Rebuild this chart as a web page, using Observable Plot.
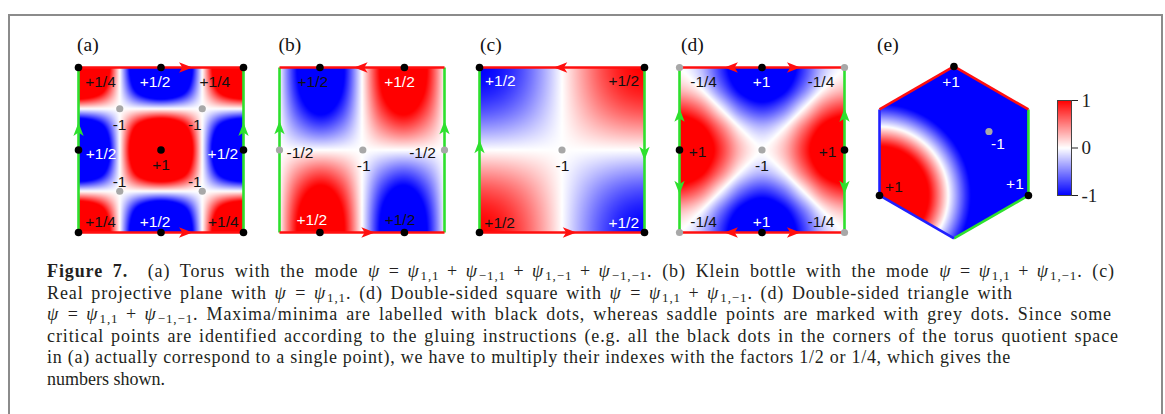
<!DOCTYPE html>
<html>
<head>
<meta charset="utf-8">
<script src="https://cdn.jsdelivr.net/npm/d3@7"></script>
<script src="https://cdn.jsdelivr.net/npm/@observablehq/plot@0.6"></script>
<style>
  html, body { margin: 0; padding: 0; background: #fff; }
  #fig { position: relative; width: 1165px; height: 414px; overflow: hidden; background: #fff; }
  .frame { position: absolute; left: 8px; top: 14px; width: 1151px; height: 440px; border: 2px solid #8b8b8b; }
  .panel { position: absolute; }
  .panel svg { overflow: visible; }
  .tag { position: absolute; top: 35px; font-family: "Liberation Serif", serif; font-size: 19.5px; line-height: 20px; color: #111; }
  .caption { position: absolute; left: 47px; top: 261px; font-family: "Liberation Serif", serif; font-size: 18px; line-height: 21.5px; color: #231f20; }
  .caption .ln { display: block; white-space: nowrap; height: 21.5px; }
  .caption sub { font-size: 0.72em; vertical-align: -0.25em; line-height: 0; }
  .caption i { padding-right: 0.06em; }
  .caption .op { margin: 0 0.42em; }
</style>
</head>
<body>
<div id="fig">
  <div class="frame"></div>
  <div class="tag" style="left:77px">(a)</div>
  <div class="tag" style="left:278.5px">(b)</div>
  <div class="tag" style="left:480px">(c)</div>
  <div class="tag" style="left:681px">(d)</div>
  <div class="tag" style="left:877px">(e)</div>
  <div id="pa" class="panel"></div>
  <div id="pb" class="panel"></div>
  <div id="pc" class="panel"></div>
  <div id="pd" class="panel"></div>
  <div id="pe" class="panel"></div>
  <div id="bar" class="panel"></div>
  <div class="caption">
    <div class="ln"><span><b>Figure 7.</b>&nbsp; (a) Torus with the mode <i>ψ</i><span class="op">=</span><i>ψ</i><sub>1,1</sub><span class="op">+</span><i>ψ</i><sub>−1,1</sub><span class="op">+</span><i>ψ</i><sub>1,−1</sub><span class="op">+</span><i>ψ</i><sub>−1,−1</sub>. (b) Klein bottle with the mode <i>ψ</i><span class="op">=</span><i>ψ</i><sub>1,1</sub><span class="op">+</span><i>ψ</i><sub>1,−1</sub>. (c)</span></div>
    <div class="ln"><span>Real projective plane with <i>ψ</i><span class="op">=</span><i>ψ</i><sub>1,1</sub>. (d) Double-sided square with <i>ψ</i><span class="op">=</span><i>ψ</i><sub>1,1</sub><span class="op">+</span><i>ψ</i><sub>1,−1</sub>. (d) Double-sided triangle with</span></div>
    <div class="ln"><span><i>ψ</i><span class="op">=</span><i>ψ</i><sub>1,1</sub><span class="op">+</span><i>ψ</i><sub>−1,−1</sub>. Maxima/minima are labelled with black dots, whereas saddle points are marked with grey dots. Since some</span></div>
    <div class="ln"><span>critical points are identified according to the gluing instructions (e.g. all the black dots in the corners of the torus quotient space</span></div>
    <div class="ln"><span>in (a) actually correspond to a single point), we have to multiply their indexes with the factors 1/2 or 1/4, which gives the</span></div>
    <div class="ln"><span>numbers shown.</span></div>
  </div>
</div>
<script>
// ---- Field samples on a 9×9 grid (rows top→bottom, columns left→right) ----
const gridA = [
  [2.8, 2, 0, -2, -2.8, -2, 0, 2, 2.8],
  [2, 1.4, 0, -1.4, -2, -1.4, 0, 1.4, 2],
  [0, 0, 0, 0, 0, 0, 0, 0, 0],
  [-2, -1.4, 0, 1.4, 2, 1.4, 0, -1.4, -2],
  [-2.8, -2, 0, 2, 2.8, 2, 0, -2, -2.8],
  [-2, -1.4, 0, 1.4, 2, 1.4, 0, -1.4, -2],
  [0, 0, 0, 0, 0, 0, 0, 0, 0],
  [2, 1.4, 0, -1.4, -2, -1.4, 0, 1.4, 2],
  [2.8, 2, 0, -2, -2.8, -2, 0, 2, 2.8]
];
const gridB = [
  [0, -1.13, -1.6, -1.13, 0, 1.13, 1.6, 1.13, 0],
  [0, -1.05, -1.48, -1.05, 0, 1.05, 1.48, 1.05, 0],
  [0, -0.8, -1.13, -0.8, 0, 0.8, 1.13, 0.8, 0],
  [0, -0.43, -0.62, -0.43, 0, 0.43, 0.62, 0.43, 0],
  [0, 0, 0, 0, 0, 0, 0, 0, 0],
  [0, 0.43, 0.62, 0.43, 0, -0.43, -0.62, -0.43, 0],
  [0, 0.8, 1.13, 0.8, 0, -0.8, -1.13, -0.8, 0],
  [0, 1.05, 1.48, 1.05, 0, -1.05, -1.48, -1.05, 0],
  [0, 1.13, 1.6, 1.13, 0, -1.13, -1.6, -1.13, 0]
];
const gridC = [
  [-1, -0.92, -0.71, -0.38, 0, 0.38, 0.71, 0.92, 1],
  [-0.92, -0.85, -0.65, -0.35, 0, 0.35, 0.65, 0.85, 0.92],
  [-0.71, -0.65, -0.5, -0.27, 0, 0.27, 0.5, 0.65, 0.71],
  [-0.38, -0.35, -0.27, -0.15, 0, 0.15, 0.27, 0.35, 0.38],
  [0, 0, 0, 0, 0, 0, 0, 0, 0],
  [0.38, 0.35, 0.27, 0.15, 0, -0.15, -0.27, -0.35, -0.38],
  [0.71, 0.65, 0.5, 0.27, 0, -0.27, -0.5, -0.65, -0.71],
  [0.92, 0.85, 0.65, 0.35, 0, -0.35, -0.65, -0.85, -0.92],
  [1, 0.92, 0.71, 0.38, 0, -0.38, -0.71, -0.92, -1]
];
const gridD = [
  [0, -0.23, -0.8, -1.37, -1.6, -1.37, -0.8, -0.23, 0],
  [0.23, 0, -0.57, -1.13, -1.37, -1.13, -0.57, 0, 0.23],
  [0.8, 0.57, 0, -0.57, -0.8, -0.57, 0, 0.57, 0.8],
  [1.37, 1.13, 0.57, 0, -0.23, 0, 0.57, 1.13, 1.37],
  [1.6, 1.37, 0.8, 0.23, 0, 0.23, 0.8, 1.37, 1.6],
  [1.37, 1.13, 0.57, 0, -0.23, 0, 0.57, 1.13, 1.37],
  [0.8, 0.57, 0, -0.57, -0.8, -0.57, 0, 0.57, 0.8],
  [0.23, 0, -0.57, -1.13, -1.37, -1.13, -0.57, 0, 0.23],
  [0, -0.23, -0.8, -1.37, -1.6, -1.37, -0.8, -0.23, 0]
];
// Triangle mode: value against distance from the lower-left corner (hexagon radius = 1)
const hexDist  = [0, 0.2, 0.4, 0.6, 0.8, 1.0, 1.2, 1.4, 1.6, 1.8];
const hexValue = [2, 1.9, 1.55, 0.9, 0, -0.8, -1.45, -1.85, -2, -2];

// ---- Gluing edges ----
const squareEdges = [
  {x1: 0, y1: 0, x2: 0, y2: 1, side: "green"},
  {x1: 1, y1: 0, x2: 1, y2: 1, side: "green"},
  {x1: 0, y1: 1, x2: 1, y2: 1, side: "red"},
  {x1: 0, y1: 0, x2: 1, y2: 0, side: "red"}
];
const hexEdges = [
  {x1: -0.866, y1: 0.5, x2: 0, y2: 1, side: "red"},
  {x1: 0, y1: 1, x2: 0.866, y2: 0.5, side: "red"},
  {x1: 0.866, y1: 0.5, x2: 0.866, y2: -0.5, side: "green"},
  {x1: 0.866, y1: -0.5, x2: 0, y2: -1, side: "green"},
  {x1: 0, y1: -1, x2: -0.866, y2: -0.5, side: "blue"},
  {x1: -0.866, y1: -0.5, x2: -0.866, y2: 0.5, side: "blue"}
];

// ---- Edge direction arrows (angle in degrees, 0 = right, 90 = down) ----
const arrowsA = [
  {x: 0.648, y: 1, angle: 0, side: "red"}, {x: 0.648, y: 0, angle: 0, side: "red"},
  {x: 0, y: 0.624, angle: -90, side: "green"}, {x: 1, y: 0.624, angle: -90, side: "green"}
];
const arrowsB = [
  {x: 0.495, y: 1, angle: 180, side: "red"}, {x: 0.535, y: 0, angle: 0, side: "red"},
  {x: 0, y: 0.634, angle: -90, side: "green"}, {x: 1, y: 0.634, angle: -90, side: "green"}
];
const arrowsC = [
  {x: 0.493, y: 1, angle: 180, side: "red"}, {x: 0.544, y: 0, angle: 0, side: "red"},
  {x: 0, y: 0.52, angle: -90, side: "green"}, {x: 1, y: 0.48, angle: 90, side: "green"}
];
const arrowsD = [
  {x: 0.315, y: 1, angle: 180, side: "red"}, {x: 0.69, y: 1, angle: 0, side: "red"},
  {x: 0.315, y: 0, angle: 180, side: "red"}, {x: 0.69, y: 0, angle: 0, side: "red"},
  {x: 0, y: 0.71, angle: -90, side: "green"}, {x: 0, y: 0.274, angle: 90, side: "green"},
  {x: 1, y: 0.71, angle: -90, side: "green"}, {x: 1, y: 0.274, angle: 90, side: "green"}
];

// ---- Critical points: extrema (black) and saddles (grey) ----
const dotsA = [
  {x: 0, y: 0, type: "extremum"}, {x: 1, y: 0, type: "extremum"}, {x: 0, y: 1, type: "extremum"},
  {x: 1, y: 1, type: "extremum"}, {x: 0.5, y: 1, type: "extremum"}, {x: 0.5, y: 0, type: "extremum"},
  {x: 0, y: 0.5, type: "extremum"}, {x: 1, y: 0.5, type: "extremum"}, {x: 0.5, y: 0.5, type: "extremum"},
  {x: 0.25, y: 0.75, type: "saddle"}, {x: 0.75, y: 0.75, type: "saddle"},
  {x: 0.25, y: 0.25, type: "saddle"}, {x: 0.75, y: 0.25, type: "saddle"}
];
const dotsB = [
  {x: 0.245, y: 1, type: "extremum"}, {x: 0.757, y: 1, type: "extremum"},
  {x: 0.245, y: 0, type: "extremum"}, {x: 0.757, y: 0, type: "extremum"},
  {x: 0, y: 0.5, type: "saddle"}, {x: 0.505, y: 0.5, type: "saddle"}, {x: 1, y: 0.5, type: "saddle"}
];
const dotsC = [
  {x: 0, y: 0, type: "extremum"}, {x: 1, y: 0, type: "extremum"},
  {x: 0, y: 1, type: "extremum"}, {x: 1, y: 1, type: "extremum"},
  {x: 0.5, y: 0.5, type: "saddle"}
];
const dotsD = [
  {x: 0.5, y: 1, type: "extremum"}, {x: 0.5, y: 0, type: "extremum"},
  {x: 0, y: 0.5, type: "extremum"}, {x: 1, y: 0.5, type: "extremum"},
  {x: 0, y: 0, type: "saddle"}, {x: 1, y: 0, type: "saddle"}, {x: 0, y: 1, type: "saddle"},
  {x: 1, y: 1, type: "saddle"}, {x: 0.5, y: 0.5, type: "saddle"}
];
const dotsE = [
  {x: 0, y: 1, type: "extremum"}, {x: 0.866, y: -0.5, type: "extremum"},
  {x: -0.866, y: -0.5, type: "extremum"}, {x: 0.407, y: 0.244, type: "saddle"}
];

// ---- Index labels ----
const labelsA = [
  {x: 0.133, y: 0.909, t: "+1/4", tone: "dark"}, {x: 0.464, y: 0.909, t: "+1/2", tone: "light"},
  {x: 0.826, y: 0.909, t: "+1/4", tone: "dark"}, {x: 0.249, y: 0.65, t: "-1", tone: "dark"},
  {x: 0.705, y: 0.65, t: "-1", tone: "dark"}, {x: 0.137, y: 0.477, t: "+1/2", tone: "light"},
  {x: 0.5, y: 0.406, t: "+1", tone: "dark"}, {x: 0.875, y: 0.477, t: "+1/2", tone: "light"},
  {x: 0.249, y: 0.306, t: "-1", tone: "dark"}, {x: 0.705, y: 0.306, t: "-1", tone: "dark"},
  {x: 0.134, y: 0.064, t: "+1/4", tone: "dark"}, {x: 0.464, y: 0.064, t: "+1/2", tone: "light"},
  {x: 0.878, y: 0.064, t: "+1/4", tone: "dark"}
];
const labelsB = [
  {x: 0.202, y: 0.91, t: "+1/2", tone: "dark"}, {x: 0.727, y: 0.91, t: "+1/2", tone: "light"},
  {x: 0.124, y: 0.48, t: "-1/2", tone: "dark"}, {x: 0.51, y: 0.40, t: "-1", tone: "dark"},
  {x: 0.867, y: 0.48, t: "-1/2", tone: "dark"}, {x: 0.196, y: 0.075, t: "+1/2", tone: "light"},
  {x: 0.73, y: 0.075, t: "+1/2", tone: "dark"}
];
const labelsC = [
  {x: 0.126, y: 0.92, t: "+1/2", tone: "light"}, {x: 0.874, y: 0.92, t: "+1/2", tone: "dark"},
  {x: 0.503, y: 0.40, t: "-1", tone: "dark"}, {x: 0.122, y: 0.06, t: "+1/2", tone: "dark"},
  {x: 0.874, y: 0.06, t: "+1/2", tone: "light"}
];
const labelsD = [
  {x: 0.146, y: 0.914, t: "-1/4", tone: "dark"}, {x: 0.497, y: 0.914, t: "+1", tone: "light"},
  {x: 0.857, y: 0.914, t: "-1/4", tone: "dark"}, {x: 0.11, y: 0.49, t: "+1", tone: "dark"},
  {x: 0.5, y: 0.40, t: "-1", tone: "dark"}, {x: 0.897, y: 0.49, t: "+1", tone: "dark"},
  {x: 0.146, y: 0.063, t: "-1/4", tone: "dark"}, {x: 0.497, y: 0.063, t: "+1", tone: "light"},
  {x: 0.857, y: 0.063, t: "-1/4", tone: "dark"}
];
const labelsE = [
  {x: -0.035, y: 0.817, t: "+1", tone: "light"}, {x: 0.512, y: 0.10, t: "-1", tone: "light"},
  {x: -0.698, y: -0.403, t: "+1", tone: "dark"}, {x: 0.709, y: -0.372, t: "+1", tone: "light"}
];

const barTicks = [-1, 0, 1];

// ---- Styling ----
const edgeColor = {red: "#ff0f0f", green: "#2ee02e", blue: "#1f1fff"};
const textColor = {dark: "#111111", light: "#ffffff"};
const colorScale = {
  type: "linear",
  domain: [-1, 1],
  interpolate: d3.piecewise(d3.interpolateRgb, ["#0000ff", "#ffffff", "#ff0000"]),
  clamp: true
};
const M = 8;        // room around each panel for dots and arrowheads
const S = 165;      // side of each square panel in px
const labelFont = "'Liberation Sans', Arial, sans-serif";

// Notched arrowhead pointing along +x; rotated per arrow.
const arrowHead = {
  draw(ctx, size) {
    const s = Math.sqrt(size / Math.PI);
    ctx.moveTo(1.25 * s, 0);
    ctx.lineTo(-1.15 * s, -0.92 * s);
    ctx.lineTo(-0.55 * s, 0);
    ctx.lineTo(-1.15 * s, 0.92 * s);
    ctx.closePath();
  }
};

// Smooth (Catmull-Rom) lookup into a grid; rows run from y = 1 down to y = 0.
function gridSampler(g) {
  const n = g.length - 1, m = g[0].length - 1;
  const at = (i, j) => {
    if (i < 0) return 3 * at(0, j) - 3 * at(1, j) + at(2, j);
    if (i > n) return 3 * at(n, j) - 3 * at(n - 1, j) + at(n - 2, j);
    if (j < 0) return 3 * g[i][0] - 3 * g[i][1] + g[i][2];
    if (j > m) return 3 * g[i][m] - 3 * g[i][m - 1] + g[i][m - 2];
    return g[i][j];
  };
  const cr = (p0, p1, p2, p3, t) =>
    0.5 * (2 * p1 + (p2 - p0) * t + (2 * p0 - 5 * p1 + 4 * p2 - p3) * t * t + (3 * p1 - p0 - 3 * p2 + p3) * t * t * t);
  return (x, y) => {
    const gx = x * m, gy = (1 - y) * n;
    const j = Math.max(0, Math.min(m - 1, Math.floor(gx))), tx = gx - j;
    const i = Math.max(0, Math.min(n - 1, Math.floor(gy))), ty = gy - i;
    const r = [i - 1, i, i + 1, i + 2].map(k => cr(at(k, j - 1), at(k, j), at(k, j + 1), at(k, j + 2), tx));
    return cr(r[0], r[1], r[2], r[3], ty);
  };
}

function hexSampler(x, y) {
  const ax = Math.abs(x), ay = Math.abs(y);
  if (ax > 0.866 || ay + ax / Math.sqrt(3) > 1) return NaN;
  const d = Math.hypot(x + 0.866, y + 0.5);
  let k = 1;
  while (k < hexDist.length - 1 && hexDist[k] < d) k++;
  const t = Math.max(0, Math.min(1, (d - hexDist[k - 1]) / (hexDist[k] - hexDist[k - 1])));
  return hexValue[k - 1] + t * (hexValue[k] - hexValue[k - 1]);
}

function overlayMarks(edges, arrows, dots, labels) {
  const marks = [];
  for (const side of ["green", "blue", "red"]) {
    const e = edges.filter(d => d.side === side);
    if (e.length) marks.push(Plot.link(e, {x1: "x1", y1: "y1", x2: "x2", y2: "y2", stroke: edgeColor[side], strokeWidth: 2.6}));
  }
  for (const side of ["green", "red"]) {
    const a = arrows.filter(d => d.side === side);
    if (a.length) marks.push(Plot.dot(a, {x: "x", y: "y", rotate: "angle", symbol: arrowHead, r: 5.6, fill: edgeColor[side], stroke: "none"}));
  }
  marks.push(Plot.dot(dots.filter(d => d.type === "extremum"), {x: "x", y: "y", r: 3.8, fill: "#000"}));
  marks.push(Plot.dot(dots.filter(d => d.type === "saddle"), {x: "x", y: "y", r: 3.6, fill: "#a8a8a8"}));
  for (const tone of ["dark", "light"]) {
    marks.push(Plot.text(labels.filter(d => d.tone === tone), {
      x: "x", y: "y", text: "t", fill: textColor[tone], fontSize: 15.5, fontFamily: labelFont
    }));
  }
  return marks;
}

function squarePanel(grid, arrows, dots, labels) {
  return Plot.plot({
    width: S + 2 * M, height: S + 2 * M, margin: M,
    x: {domain: [0, 1], axis: null},
    y: {domain: [0, 1], axis: null},
    color: colorScale,
    style: {background: "transparent"},
    marks: [
      Plot.raster({fill: gridSampler(grid), x1: 0, x2: 1, y1: 0, y2: 1}),
      ...overlayMarks(squareEdges, arrows, dots, labels)
    ]
  });
}

function place(id, node, left, top) {
  const el = document.getElementById(id);
  el.style.left = left + "px";
  el.style.top = top + "px";
  el.appendChild(node);
}

place("pa", squarePanel(gridA, arrowsA, dotsA, labelsA), 77.5 - M, 67 - M);
place("pb", squarePanel(gridB, arrowsB, dotsB, labelsB), 279 - M, 67 - M);
place("pc", squarePanel(gridC, arrowsC, dotsC, labelsC), 479.3 - M, 67 - M);
place("pd", squarePanel(gridD, arrowsD, dotsD, labelsD), 679.2 - M, 67 - M);

// Hexagon (double-sided triangle), circumradius R px
const R = 86;
const hexPlot = Plot.plot({
  width: 2 * 0.866 * R + 2 * M, height: 2 * R + 2 * M, margin: M,
  x: {domain: [-0.866, 0.866], axis: null},
  y: {domain: [-1, 1], axis: null},
  color: colorScale,
  style: {background: "transparent"},
  marks: [
    Plot.raster({fill: hexSampler, x1: -0.866, x2: 0.866, y1: -1, y2: 1}),
    ...overlayMarks(hexEdges, [], dotsE, labelsE)
  ]
});
place("pe", hexPlot, 953 - 0.866 * R - M, 66 - M);

// Colour bar
const barPlot = Plot.plot({
  width: 2 + 14 + 40, height: 95 + 20,
  marginLeft: 2, marginRight: 40, marginTop: 10, marginBottom: 10,
  x: {domain: [0, 1], axis: null},
  y: {domain: [-1, 1], axis: "right", ticks: barTicks, tickSize: 6, tickPadding: 4, tickFormat: d => String(d), label: null},
  color: colorScale,
  style: {background: "transparent", fontFamily: "'Liberation Serif', serif", fontSize: "19px", color: "#222"},
  marks: [
    Plot.raster({fill: (x, y) => y, x1: 0, x2: 1, y1: -1, y2: 1}),
    Plot.frame({stroke: "#444", strokeWidth: 1})
  ]
});
place("bar", barPlot, 1057 - 2, 100 - 10);

// Caption: track each line out (within limits), then let the word gaps
// take up whatever is left so the line ends where it should.
const lineEnds = [1115, 1013, 1112, 1119, 1011];
const spans = [...document.querySelectorAll(".caption .ln > span")];
spans.forEach((span, i) => {
  if (i >= lineEnds.length) return;
  const target = lineEnds[i] - 47;
  const w0 = span.getBoundingClientRect().width;
  const n = span.textContent.length;
  const ls = Math.max(-0.3, Math.min(0.9, (target - w0) / n));
  span.style.letterSpacing = ls + "px";
  const w1 = span.getBoundingClientRect().width;
  const spaces = (span.textContent.match(/[ \u00a0]/g) || []).length;
  if (spaces) span.style.wordSpacing = ((target - w1) / spaces) + "px";
});
</script>
</body>
</html>
